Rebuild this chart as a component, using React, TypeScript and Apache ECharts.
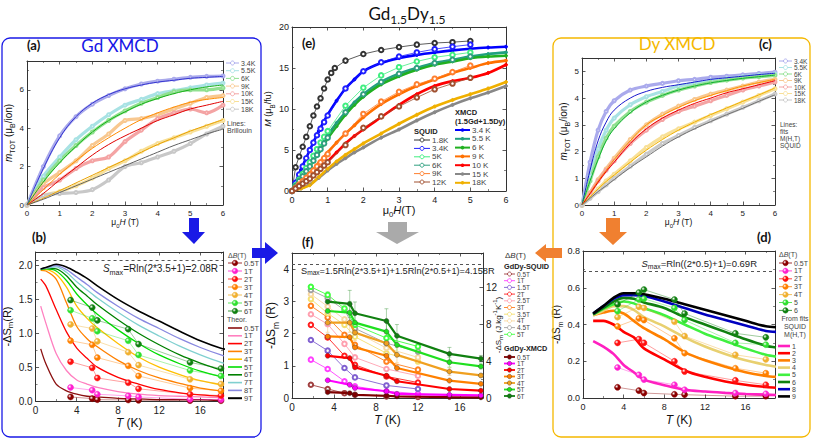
import React, { useEffect, useRef } from 'react';
import * as echarts from 'echarts';

// ---------------- data ----------------
// (a) Gd XMCD m(H)
const A_H = [0, 0.5, 1, 1.5, 2, 2.5, 3, 3.5, 4, 4.5, 5, 5.5, 6];
const A_NAMES = ['3.4K', '5.5K', '6K', '9K', '10K', '15K', '18K'];
const A_DATA = [
  [0, 2.0, 3.6, 4.6, 5.25, 5.7, 6.05, 6.3, 6.45, 6.55, 6.65, 6.7, 6.72],
  [0, 1.5, 2.5, 3.4, 4.1, 4.7, 5.2, 5.5, 5.8, 5.95, 6.1, 6.25, 6.35],
  [0, 1.3, 2.3, 3.1, 3.8, 4.4, 4.9, 5.3, 5.6, 5.9, 6.0, 6.0, 6.1],
  [0, 1.1, 1.7, 2.3, 3.1, 3.7, 4.4, 4.5, 4.7, 5.0, 5.3, 5.6, 5.7],
  [0, 0.9, 1.3, 1.9, 2.3, 2.5, 3.3, 3.9, 4.5, 4.8, 5.0, 4.8, 5.2],
  [0, 0.5, 0.7, 1.0, 1.4, 1.9, 2.3, 2.8, 3.2, 3.5, 3.8, 4.1, 4.4],
  [0, 0.5, 0.6, 0.65, 0.8, 1.3, 2.0, 2.2, 2.5, 2.8, 3.2, 3.7, 4.1],
];
const A_LINES = [
  [0, 1.9, 3.5, 4.6, 5.3, 5.75, 6.05, 6.25, 6.4, 6.5, 6.6, 6.65, 6.7],
  [0, 1.2, 2.2, 3.05, 3.8, 4.4, 4.85, 5.25, 5.55, 5.8, 6.0, 6.15, 6.25],
  [0, 0.8, 1.6, 2.3, 2.95, 3.5, 4.0, 4.45, 4.8, 5.1, 5.35, 5.5, 5.6],
  [0, 0.6, 1.3, 1.95, 2.6, 3.15, 3.6, 4.0, 4.4, 4.7, 5.0, 5.2, 5.4],
  [0, 0.35, 0.75, 1.15, 1.55, 1.95, 2.35, 2.75, 3.15, 3.5, 3.85, 4.15, 4.45],
  [0, 0.3, 0.65, 1.0, 1.35, 1.7, 2.05, 2.4, 2.75, 3.1, 3.4, 3.7, 3.95],
];

// (b) Gd -dS
const B_T = [0.5, 1, 2, 3, 4, 5, 6, 8, 10, 12, 14, 16, 18, 19];
const B_TH_NAMES = ['0.5T', '1T', '2T', '3T', '4T', '5T', '6T', '7T', '8T', '9T'];
const B_TH = [
  [0.77, 0.55, 0.25, 0.15, 0.1, 0.07, 0.06, 0.04, 0.03, 0.02, 0.02, 0.02, 0.01, 0.01],
  [1.4, 1.15, 0.7, 0.45, 0.31, 0.25, 0.2, 0.14, 0.1, 0.08, 0.07, 0.06, 0.05, 0.045],
  [1.8, 1.7, 1.35, 1.02, 0.78, 0.63, 0.5, 0.35, 0.25, 0.17, 0.12, 0.09, 0.07, 0.065],
  [1.93, 1.92, 1.8, 1.45, 1.1, 0.92, 0.8, 0.6, 0.45, 0.34, 0.26, 0.19, 0.15, 0.14],
  [1.94, 1.94, 1.87, 1.68, 1.4, 1.22, 1.08, 0.85, 0.65, 0.5, 0.39, 0.3, 0.24, 0.22],
  [1.94, 1.95, 1.92, 1.78, 1.58, 1.42, 1.28, 1.05, 0.85, 0.68, 0.55, 0.44, 0.36, 0.34],
  [1.95, 1.96, 1.95, 1.85, 1.68, 1.55, 1.42, 1.2, 1.0, 0.83, 0.68, 0.56, 0.46, 0.43],
  [1.95, 1.96, 1.98, 1.9, 1.76, 1.64, 1.52, 1.31, 1.12, 0.96, 0.81, 0.68, 0.57, 0.54],
  [1.95, 1.97, 2.0, 1.94, 1.83, 1.72, 1.6, 1.4, 1.22, 1.07, 0.92, 0.79, 0.68, 0.64],
  [1.95, 1.97, 2.02, 1.98, 1.9, 1.81, 1.7, 1.5, 1.33, 1.18, 1.03, 0.89, 0.78, 0.75],
];
const B_MT = [3.4, 5.5, 6, 9, 10, 15, 18];
const B_MK_NAMES = ['0.5T', '1T', '2T', '3T', '4T', '5T', '6T'];
const B_MK = [
  [0.06, 0.035, 0.02, 0.015, 0.01, 0.005, 0.004],
  [0.2, 0.16, 0.1, 0.075, 0.06, 0.025, 0.02],
  [0.58, 0.49, 0.34, 0.27, 0.18, 0.1, 0.08],
  [0.89, 0.83, 0.64, 0.52, 0.37, 0.19, 0.15],
  [1.13, 1.07, 0.88, 0.72, 0.53, 0.32, 0.25],
  [1.34, 1.22, 1.03, 0.89, 0.68, 0.45, 0.37],
  [1.49, 1.38, 1.19, 1.06, 0.84, 0.57, 0.48],
];
const B_SMAX = 2.08;

// (c) Dy XMCD m(H)
const C_H = [0, 0.25, 0.5, 0.75, 1, 1.5, 2, 2.5, 3, 3.5, 4, 4.5, 5, 5.5, 6];
const C_DATA = [
  [0, 1.6, 2.8, 3.5, 3.9, 4.3, 4.45, 4.55, 4.65, 4.7, 4.78, 4.82, 4.87, 4.92, 4.97],
  [0, 1.1, 2.1, 2.8, 3.25, 3.75, 4.05, 4.25, 4.45, 4.55, 4.65, 4.73, 4.8, 4.86, 4.9],
  [0, 0.9, 1.8, 2.5, 2.95, 3.5, 3.85, 4.1, 4.3, 4.45, 4.58, 4.67, 4.75, 4.8, 4.85],
  [0, 0.45, 0.95, 1.35, 1.75, 2.45, 3.0, 3.4, 3.7, 3.95, 4.15, 4.3, 4.45, 4.6, 4.7],
  [0, 0.45, 0.9, 1.3, 1.65, 2.3, 2.8, 3.2, 3.5, 3.7, 3.9, 4.1, 4.3, 4.45, 4.6],
  [0, 0.3, 0.6, 0.9, 1.15, 1.65, 2.15, 2.55, 2.85, 3.1, 3.35, 3.6, 3.85, 4.1, 4.35],
  [0, 0.25, 0.5, 0.75, 1.0, 1.45, 1.9, 2.3, 2.6, 2.9, 3.15, 3.4, 3.65, 3.9, 4.15],
];
const C_LINES = [
  [0, 1.3, 2.4, 3.1, 3.55, 4.0, 4.25, 4.4, 4.5, 4.6, 4.7, 4.76, 4.82, 4.88, 4.93],
  [0, 0.9, 1.7, 2.4, 2.85, 3.45, 3.85, 4.1, 4.3, 4.45, 4.57, 4.66, 4.74, 4.8, 4.86],
  [0, 0.45, 0.9, 1.3, 1.7, 2.4, 3.0, 3.35, 3.65, 3.9, 4.1, 4.28, 4.45, 4.58, 4.7],
  [0, 0.42, 0.85, 1.25, 1.6, 2.3, 2.85, 3.25, 3.55, 3.8, 4.0, 4.2, 4.35, 4.5, 4.65],
  [0, 0.3, 0.6, 0.88, 1.12, 1.6, 2.05, 2.45, 2.8, 3.1, 3.38, 3.63, 3.88, 4.12, 4.38],
  [0, 0.25, 0.5, 0.72, 0.95, 1.4, 1.8, 2.2, 2.55, 2.85, 3.12, 3.38, 3.62, 3.88, 4.12],
];

// (d) Dy -dS
const D_T = [1, 2, 3, 4, 5, 6, 8, 10, 12, 14, 16, 18, 19];
const D_LN_NAMES = ['1', '2', '3', '4', '5', '6', '8', '9'];
const D_LN = [
  [0.31, 0.28, 0.24, 0.18, 0.14, 0.1, 0.07, 0.045, 0.035, 0.028, 0.022, 0.018, 0.016],
  [0.42, 0.42, 0.4, 0.36, 0.33, 0.27, 0.21, 0.15, 0.115, 0.09, 0.072, 0.06, 0.056],
  [0.45, 0.465, 0.475, 0.46, 0.42, 0.38, 0.32, 0.25, 0.205, 0.17, 0.14, 0.12, 0.115],
  [0.45, 0.475, 0.5, 0.5, 0.48, 0.44, 0.39, 0.33, 0.28, 0.24, 0.205, 0.18, 0.17],
  [0.455, 0.485, 0.51, 0.525, 0.515, 0.49, 0.45, 0.4, 0.35, 0.31, 0.27, 0.235, 0.225],
  [0.455, 0.49, 0.525, 0.545, 0.54, 0.52, 0.49, 0.44, 0.4, 0.36, 0.32, 0.285, 0.275],
  [0.46, 0.5, 0.54, 0.56, 0.56, 0.555, 0.525, 0.49, 0.455, 0.425, 0.395, 0.365, 0.36],
  [0.46, 0.5, 0.545, 0.57, 0.57, 0.565, 0.54, 0.51, 0.48, 0.45, 0.42, 0.39, 0.385],
];
const D_MT = [3.4, 5.5, 6, 9, 10, 15, 18];
const D_MK_NAMES = ['0.5T', '1T', '2T', '3T', '4T', '5', '6'];
const D_MK = [
  [0.058, 0.04, 0.027, 0.02, 0.018, 0.01, 0.01],
  [0.166, 0.126, 0.1, 0.072, 0.045, 0.027, 0.023],
  [0.3, 0.32, 0.3, 0.2, 0.144, 0.096, 0.072],
  [0.39, 0.433, 0.424, 0.325, 0.244, 0.162, 0.135],
  [0.44, 0.496, 0.49, 0.415, 0.337, 0.235, 0.21],
  [0.473, 0.536, 0.54, 0.49, 0.424, 0.3, 0.29],
  [0.51, 0.574, 0.59, 0.536, 0.46, 0.352, 0.33],
];
const D_SMAX = 0.69;

// (e) Gd1.5Dy1.5 M(H)
const E_H18 = [0, 0.1, 0.2, 0.3, 0.4, 0.5, 0.6, 0.7, 0.8, 0.9, 1, 1.1, 1.2, 1.5, 2, 2.5, 3, 3.5, 4, 4.5, 5];
const E_SQ18 = [0, 2.9, 4.2, 5.4, 6.6, 7.9, 9.2, 10.3, 11.3, 12.5, 13.6, 14.4, 15.0, 15.9, 16.7, 17.2, 17.55, 17.85, 18.05, 18.15, 18.3];
const E_HSQ = [0, 0.1, 0.2, 0.3, 0.4, 0.5, 0.6, 0.7, 0.8, 0.9, 1, 1.5, 2, 2.5, 3, 3.5, 4, 4.5, 5];
const E_SQ_NAMES = ['3.4K', '5K', '6K', '9K', '12K'];
const E_SQ = [
  [0, 1.0, 2.0, 3.0, 4.0, 5.0, 5.9, 6.8, 7.6, 8.4, 9.2, 12.5, 14.6, 15.7, 16.4, 16.9, 17.3, 17.6, 17.85],
  [0, 0.7, 1.4, 2.1, 2.8, 3.5, 4.3, 5.1, 5.9, 6.6, 7.3, 10.4, 12.6, 14.1, 15.1, 15.8, 16.3, 16.6, 16.9],
  [0, 0.6, 1.2, 1.8, 2.4, 3.0, 3.7, 4.4, 5.1, 5.8, 6.5, 9.6, 11.8, 13.3, 14.3, 15.0, 15.6, 16.0, 16.4],
  [0, 0.4, 0.8, 1.2, 1.6, 2.0, 2.5, 3.0, 3.5, 4.0, 4.5, 7.0, 9.4, 10.9, 12.1, 13.0, 13.7, 14.5, 15.3],
  [0, 0.3, 0.6, 0.9, 1.2, 1.5, 1.9, 2.3, 2.7, 3.1, 3.5, 5.6, 7.7, 9.1, 10.3, 11.4, 12.4, 13.1, 13.8],
];
const E_HX = [0, 0.25, 0.5, 0.75, 1, 1.25, 1.5, 1.75, 2, 2.5, 3, 3.5, 4, 4.5, 5, 5.5, 6];
const E_X_NAMES = ['3.4 K', '5.5 K', '6 K', '9 K', '10 K', '15 K', '18K'];
const E_X = [
  [0, 2.6, 5.0, 7.3, 9.3, 11.0, 12.5, 13.6, 14.6, 15.6, 16.2, 16.6, 16.9, 17.15, 17.35, 17.5, 17.6],
  [0, 1.7, 3.3, 5.0, 6.8, 8.3, 9.6, 10.8, 11.8, 13.3, 14.3, 15.0, 15.6, 16.0, 16.4, 16.7, 16.9],
  [0, 1.5, 3.0, 4.7, 6.4, 7.9, 9.3, 10.5, 11.5, 13.0, 14.0, 14.8, 15.4, 15.8, 16.2, 16.4, 16.5],
  [0, 1.1, 2.2, 3.4, 4.7, 5.9, 7.0, 8.0, 9.0, 10.6, 11.8, 12.8, 13.6, 14.4, 15.0, 15.6, 15.9],
  [0, 0.7, 1.5, 2.5, 3.6, 4.7, 5.8, 6.7, 7.5, 9.0, 10.5, 11.8, 12.8, 13.4, 13.8, 14.4, 15.4],
  [0, 0.3, 0.8, 1.6, 2.5, 3.3, 4.0, 4.7, 5.3, 6.5, 7.5, 8.6, 9.6, 10.5, 11.3, 12.0, 12.8],
  [0, 0.3, 0.7, 1.7, 2.7, 3.6, 4.4, 5.1, 5.8, 7.0, 8.2, 9.3, 10.3, 11.1, 11.8, 12.5, 13.3],
];

// (f) Gd1.5Dy1.5 -dS
const F_ST = [1.8, 3.4, 5, 6, 9, 12];
const F_SQ_NAMES = ['0.5T', '1T', '1.5T', '2T', '2.5T', '3T', '3.5T', '4T', '4.5T', '5T'];
const F_SQ = [
  [0.41, 0.28, 0.15, 0.1, 0.05, 0.03],
  [1.19, 0.9, 0.52, 0.36, 0.21, 0.13],
  [1.8, 1.47, 0.93, 0.64, 0.39, 0.28],
  [2.27, 1.88, 1.31, 1.03, 0.67, 0.48],
  [2.6, 2.29, 1.68, 1.26, 0.9, 0.69],
  [2.86, 2.5, 1.96, 1.65, 1.13, 0.88],
  [3.07, 2.63, 2.27, 1.9, 1.39, 1.13],
  [3.22, 2.84, 2.44, 2.06, 1.55, 1.26],
  [3.35, 3.1, 2.73, 2.16, 1.7, 1.44],
  [3.45, 3.2, 2.78, 2.27, 1.86, 1.6],
];
const F_XT = [3.4, 5.5, 6, 9, 10, 15, 18];
const F_X_NAMES = ['0.5T', '1T', '2T', '3T', '4T', '5T', '6T'];
const F_X = [
  [0.18, 0.15, 0.1, 0.07, 0.05, 0.03, 0.02],
  [0.55, 0.41, 0.31, 0.21, 0.13, 0.1, 0.08],
  [1.31, 1.24, 0.95, 0.69, 0.52, 0.28, 0.23],
  [1.91, 1.89, 1.57, 1.31, 0.93, 0.54, 0.44],
  [2.34, 2.34, 2.03, 1.7, 1.34, 0.82, 0.7],
  [2.7, 2.65, 2.34, 2.06, 1.65, 1.11, 0.98],
  [2.99, 2.92, 2.63, 2.39, 1.93, 1.37, 1.22],
];
// error bars (half-width) for the 4T, 5T, 6T XMCD sets
const F_ERR_IDX = [4, 5, 6];
const F_ERR = [
  [0.3, 0.3, 0.25, 0.3, 0.25, 0.12, 0.06],
  [0.25, 0.35, 0.3, 0.3, 0.3, 0.15, 0.08],
  [0.3, 0.42, 0.35, 0.38, 0.35, 0.2, 0.1],
];
const F_SMAX = 4.158;

// ---------------- colours ----------------
const C_XMCD_DATA = ['#aaaaec', '#a8e2e4', '#90e090', '#f8c890', '#f4a4a4', '#f8e098', '#c8c8c8'];
const C_A_LINE = ['#3434d0', '#18b018', '#ff8c00', '#e00000', '#e8a000', '#606060'];
const C_C_LINE = ['#1a1acc', '#10b030', '#ff9000', '#ee0000', '#f0b000', '#707070'];
const C_MK = ['#8b0000', '#ff20d0', '#ff1010', '#ff8000', '#f0b030', '#30e030', '#108010'];
const C_B_TH = ['#8b1010', '#ff80c0', '#ff0000', '#ff8000', '#ffc000', '#00dd00', '#008000', '#80d0d0', '#8888e0', '#000000'];
const C_D_LN = ['#ff20c0', '#ff0000', '#ff8000', '#e8d070', '#40f040', '#108010', '#0000c0', '#000000'];
const C_E_SQ = ['#2020ff', '#40ee80', '#30a080', '#ff8030', '#a05030'];
const C_E_X = ['#0000ff', '#20a080', '#20b020', '#ff7000', '#ff0000', '#888888', '#f0b000'];
const C_F_SQ = ['#a04040', '#ff40ff', '#8060d0', '#ff2020', '#ffa0b0', '#ff8020', '#f4e070', '#f8d8a0', '#a0a0a0', '#40ff40'];
const C_F_X = ['#800000', '#ff00ff', '#ff0000', '#ff8000', '#f0a020', '#20e020', '#108010'];

const FONT = '"Liberation Sans", Arial, sans-serif';
const TFONT = 'Lato, "Open Sans", sans-serif';

function rich(size: number, color = '#111') {
  return {
    n: { fontSize: size, fontFamily: FONT, color, lineHeight: size * 1.5 },
    i: { fontSize: size, fontFamily: FONT, fontStyle: 'italic', color, lineHeight: size * 1.5 },
    s: { fontSize: size * 0.7, fontFamily: FONT, color, verticalAlign: 'bottom', lineHeight: size * 0.75 },
    u: { fontSize: size * 0.7, fontFamily: FONT, color, verticalAlign: 'top', lineHeight: size * 0.75 },
  };
}

function ball(c: string) {
  return new echarts.graphic.RadialGradient(0.35, 0.35, 0.7, [
    { offset: 0, color: '#ffffff' },
    { offset: 0.45, color: c },
    { offset: 1, color: c },
  ]);
}

function buildOption() {
  const grid: any[] = [];
  const xAxis: any[] = [];
  const yAxis: any[] = [];
  const series: any[] = [];
  const G: any[] = [];

  const isMult = (m: number, iv: number) => Math.abs(m / iv - Math.round(m / iv)) < 1e-6;
  const axLine = { show: true, onZero: false, lineStyle: { color: '#333', width: 1 } };
  const tick = { show: true, inside: true, length: 3.5, lineStyle: { color: '#333', width: 0.8 } };
  const minor = { show: true, splitNumber: 2, length: 2, lineStyle: { color: '#333', width: 0.6 } };

  function panel(g: number, box: any, xr: number[], yr: number[], o: any) {
    grid.push({ left: box[0], top: box[1], width: box[2], height: box[3], show: false });
    const common = { type: 'value', gridIndex: g, axisLine: axLine, axisTick: tick, minorTick: minor, splitLine: { show: false } };
    xAxis.push({
      ...common, position: 'bottom', min: xr[0], max: xr[1], interval: xr[2],
      axisLabel: { fontSize: o.fs, fontFamily: FONT, color: '#222', margin: 4, showMaxLabel: isMult(xr[1], xr[2]) },
      name: o.xn, nameLocation: 'middle', nameGap: o.xg, nameTextStyle: { fontSize: o.xns, fontFamily: FONT, rich: rich(o.xns) },
    });
    xAxis.push({ ...common, position: 'top', min: xr[0], max: xr[1], interval: xr[2], axisLabel: { show: false } });
    yAxis.push({
      ...common, position: 'left', min: yr[0], max: yr[1], interval: yr[2],
      axisLabel: { fontSize: o.fs, fontFamily: FONT, color: '#222', margin: 3, showMaxLabel: isMult(yr[1], yr[2]), formatter: o.yf },
      name: o.yn, nameLocation: 'middle', nameRotate: 90, nameGap: o.yg, nameTextStyle: { fontSize: o.yns, fontFamily: FONT, rich: rich(o.yns) },
    });
    if (o.right) {
      const r = o.right;
      yAxis.push({
        ...common, position: 'right', min: r[0], max: r[1], interval: r[2],
        axisLabel: { fontSize: o.fs, fontFamily: FONT, color: '#222', margin: 3, showMaxLabel: false },
      });
    } else {
      yAxis.push({ ...common, position: 'right', min: yr[0], max: yr[1], interval: yr[2], axisLabel: { show: false } });
    }
  }

  function ser(g: number, xs: number[], ys: number[], o: any) {
    const s: any = {
      type: 'line', xAxisIndex: 2 * g, yAxisIndex: 2 * g, silent: true,
      data: xs.map((x, i) => [x, ys[i]]),
      symbol: o.symbol || 'none', symbolSize: o.size || 4, showSymbol: !!o.symbol, showAllSymbol: true,
      smooth: o.smooth ?? false, z: o.z ?? 2,
      lineStyle: { color: o.color, width: o.width ?? 1, opacity: o.op ?? 1 },
      itemStyle: { color: o.fill || o.color, borderColor: o.border || o.color, borderWidth: o.bw ?? 1 },
    };
    if (o.markY !== undefined) {
      s.markLine = {
        silent: true, symbol: 'none', label: { show: false },
        lineStyle: { type: [3, 3], color: '#555', width: 1 },
        data: [{ yAxis: o.markY }],
      };
    }
    series.push(s);
  }

  // ---- panels ----
  const fmt1 = (v: number) => v.toFixed(1);
  panel(0, [27, 61, 196, 144], [0, 6, 1], [0, 7.5, 2], {
    fs: 8, xn: '{n|μ}{s|0}{i|H}{n| (T)}', xg: 10, xns: 8.5,
    yn: '{i|m}{s|TOT}{n| (μ}{s|B}{n|/ion)}', yg: 10, yns: 10,
  });
  panel(1, [28, 252, 195, 149], [0, 18.2, 4], [0, 2.2, 0.5], {
    fs: 10, yf: fmt1, xn: '{i|T}{n| (K)}', xg: 13, xns: 12,
    yn: '{n|-ΔS}{s|m}{n|(R)}', yg: 14, yns: 11,
  });
  panel(2, [582, 58, 193, 147], [0, 6, 1], [0, 5.5, 1], {
    fs: 8, xn: '{n|μ}{s|0}{i|H}{n| (T)}', xg: 10, xns: 8.5,
    yn: '{i|m}{s|TOT}{n| (μ}{s|B}{n|/ion)}', yg: 9, yns: 10,
  });
  panel(3, [583, 251, 192, 147], [0, 18.9, 4], [0, 0.8, 0.2], {
    fs: 9, yf: fmt1, xn: '{i|T}{n| (K)}', xg: 13, xns: 12,
    yn: '{n|-ΔS}{s|m}{n| (R)}', yg: 14, yns: 10,
  });
  panel(4, [292, 27, 214, 164], [0, 6, 1], [0, 20, 5], {
    fs: 9, xn: '{n|μ}{s|0}{i|H}{n|(T)}', xg: 11, xns: 11,
    yn: '{i|M}{n| (μ}{s|B}{n|/fu)}', yg: 12, yns: 9,
  });
  panel(5, [292, 253, 191, 145], [0, 18.2, 4], [0, 4.5, 1], {
    fs: 10, xn: '{i|T}{n| (K)}', xg: 13, xns: 12,
    yn: '{n|-ΔS}{s|m}{n| (R)}', yg: 12, yns: 12,
    right: [0, 15.7, 4],
  });

  // (a)
  A_DATA.forEach((d, i) => ser(0, A_H, d, { color: C_XMCD_DATA[i], width: 3.2, symbol: 'emptyCircle', size: 3, smooth: 0.3, z: 2 }));
  A_LINES.forEach((d, k) => ser(0, A_H, d, { color: C_A_LINE[k], width: 1, smooth: 0.4, z: 3 }));

  // (b)
  B_TH.forEach((d, i) => ser(1, B_T, d, { color: C_B_TH[i], width: i === 9 ? 1.6 : 1.3, smooth: 0.3, z: 3, markY: i === 9 ? B_SMAX : undefined }));
  B_MK.forEach((d, i) => ser(1, B_MT, d, { color: C_MK[i], width: 0.8, op: 0.5, symbol: 'circle', size: 6, fill: ball(C_MK[i]), border: C_MK[i], bw: 0.5, z: 4 }));

  // (c)
  C_DATA.forEach((d, i) => ser(2, C_H, d, { color: C_XMCD_DATA[i], width: 3.2, symbol: 'emptyCircle', size: 3, smooth: 0.3, z: 2 }));
  C_LINES.forEach((d, k) => ser(2, C_H, d, { color: C_C_LINE[k], width: 1, smooth: 0.4, z: 3 }));

  // (d)
  D_LN.forEach((d, i) => ser(3, D_T, d, { color: C_D_LN[i], width: 2.6, smooth: 0.3, z: 3, markY: i === 7 ? D_SMAX : undefined }));
  D_MK.forEach((d, i) => ser(3, D_MT, d, { color: C_MK[i], width: 0.8, op: 0.5, symbol: 'circle', size: 6, fill: ball(C_MK[i]), border: C_MK[i], bw: 0.5, z: 4 }));

  // (e)
  E_X.forEach((d, i) => ser(4, E_HX, d, { color: C_E_X[i], width: 2.6, symbol: 'circle', size: 3, smooth: 0.3, z: 2 }));
  ser(4, E_H18, E_SQ18, { color: '#333333', width: 0.8, symbol: 'emptyCircle', size: 4.5, z: 4 });
  E_SQ.forEach((d, i) => ser(4, E_HSQ, d, { color: C_E_SQ[i], width: 0.8, symbol: 'emptyCircle', size: 4.5, z: 4 }));

  // (f)
  F_ERR_IDX.forEach((k, m) => {
    const col = C_F_X[k];
    series.push({
      type: 'custom', xAxisIndex: 10, yAxisIndex: 10, silent: true, z: 1,
      data: F_XT.map((t, j) => [t, F_X[k][j], F_ERR[m][j]]),
      renderItem: (_p: any, api: any) => {
        const x = api.value(0), y = api.value(1), e = api.value(2);
        const a = api.coord([x, y - e]);
        const b = api.coord([x, y + e]);
        const st = { stroke: col, lineWidth: 1, opacity: 0.35 };
        return {
          type: 'group',
          children: [
            { type: 'line', shape: { x1: a[0], y1: a[1], x2: b[0], y2: b[1] }, style: st },
            { type: 'line', shape: { x1: a[0] - 2, y1: a[1], x2: a[0] + 2, y2: a[1] }, style: st },
            { type: 'line', shape: { x1: b[0] - 2, y1: b[1], x2: b[0] + 2, y2: b[1] }, style: st },
          ],
        };
      },
    });
  });
  F_SQ.forEach((d, i) => ser(5, F_ST, d, { color: C_F_SQ[i], width: 0.9, symbol: 'emptyCircle', size: 4.5, z: 3, markY: i === 0 ? F_SMAX : undefined }));
  F_X.forEach((d, i) => ser(5, F_XT, d, { color: C_F_X[i], width: 2.2, symbol: 'circle', size: 5, fill: C_F_X[i], border: '#333', bw: 0.4, z: 4 }));

  // ---- graphics ----
  const txt = (x: number, y: number, text: string, o: any = {}) => ({
    type: 'text', z: 60,
    style: {
      x, y, text,
      fill: o.fill || '#444',
      font: `${o.italic ? 'italic ' : ''}${o.bold ? 'bold ' : ''}${o.size || 7}px ${o.family || FONT}`,
      align: o.align || 'left', verticalAlign: 'middle',
      rich: o.rich,
    },
  });
  const leg = (x: number, y: number, len: number, color: string, label: string, kind: string, lw: number, fs = 7) => {
    G.push({ type: 'line', z: 58, shape: { x1: x, y1: y, x2: x + len, y2: y }, style: { stroke: color, lineWidth: lw } });
    const cx = x + len / 2;
    if (kind === 'open') G.push({ type: 'circle', z: 59, shape: { cx, cy: y, r: 2 }, style: { fill: '#fff', stroke: color, lineWidth: 0.9 } });
    if (kind === 'dot') G.push({ type: 'circle', z: 59, shape: { cx, cy: y, r: 1.8 }, style: { fill: color } });
    if (kind === 'ball') G.push({ type: 'circle', z: 59, shape: { cx, cy: y, r: 2.8 }, style: { fill: ball(color), stroke: color, lineWidth: 0.4 } });
    if (kind === 'fdot') G.push({ type: 'circle', z: 59, shape: { cx, cy: y, r: 2.2 }, style: { fill: color, stroke: '#333', lineWidth: 0.4 } });
    G.push(txt(x + len + 2, y, label, { size: fs }));
  };

  // frames
  G.push({ type: 'rect', z: 1, shape: { x: 2, y: 38, width: 259, height: 399, r: 8 }, style: { fill: 'none', stroke: '#1a1ae6', lineWidth: 1.3 } });
  G.push({ type: 'rect', z: 1, shape: { x: 553, y: 38, width: 257, height: 399, r: 8 }, style: { fill: 'none', stroke: '#f5b800', lineWidth: 1.3 } });

  // titles
  G.push(txt(120, 45, 'Gd XMCD', { size: 17, family: TFONT, fill: '#1515e6', align: 'center' }));
  G.push(txt(677, 43, 'Dy XMCD', { size: 17, family: TFONT, fill: '#f5b800', align: 'center' }));
  G.push({
    type: 'text', z: 60,
    style: {
      x: 407, y: 13, align: 'center', verticalAlign: 'middle',
      text: '{n|Gd}{s|1.5}{n|Dy}{s|1.5}',
      rich: {
        n: { fontSize: 17, fontFamily: TFONT, fill: '#111', lineHeight: 24 },
        s: { fontSize: 12, fontFamily: TFONT, fill: '#111', verticalAlign: 'bottom', lineHeight: 12 },
      },
    },
  });
  const lab = (x: number, y: number, t: string) => G.push(txt(x, y, t, { size: 13, bold: true, family: TFONT, fill: '#111' }));
  lab(27, 45, '(a)');
  lab(32, 237, '(b)');
  lab(759, 44, '(c)');
  lab(757, 237, '(d)');
  lab(302, 43, '(e)');
  lab(302, 242, '(f)');

  // right-axis title of (f)
  G.push({
    type: 'text', z: 60, x: 498, y: 325, rotation: Math.PI / 2,
    style: {
      x: 0, y: 0, align: 'center', verticalAlign: 'middle',
      text: '{n|-ΔS}{s|m}{n| (J.kg}{u|-1}{n|K}{u|-1}{n|)}',
      rich: {
        n: { fontSize: 8, fontFamily: FONT, fill: '#111', lineHeight: 12 },
        s: { fontSize: 6, fontFamily: FONT, fill: '#111', verticalAlign: 'bottom', lineHeight: 6 },
        u: { fontSize: 6, fontFamily: FONT, fill: '#111', verticalAlign: 'top', lineHeight: 6 },
      },
    },
  });

  // Smax texts
  const smaxRich = (size: number) => ({
    n: { fontSize: size, fontFamily: FONT, fill: '#222' },
    i: { fontSize: size, fontFamily: FONT, fontStyle: 'italic', fill: '#222', lineHeight: size * 1.5 },
    s: { fontSize: size * 0.72, fontFamily: FONT, fill: '#222', verticalAlign: 'bottom', lineHeight: size * 0.7 },
  });
  G.push({ type: 'text', z: 60, style: { x: 218, y: 268, align: 'right', verticalAlign: 'middle', text: '{i|S}{s|max}{n|=Rln(2*3.5+1)=2.08R}', rich: smaxRich(10) } });
  G.push({ type: 'text', z: 60, style: { x: 757, y: 263, align: 'right', verticalAlign: 'middle', text: '{i|S}{s|max}{n|=Rln((2*0.5)+1)=0.69R}', rich: smaxRich(9.5) } });
  G.push({ type: 'text', z: 60, style: { x: 301, y: 271, align: 'left', verticalAlign: 'middle', text: '{n|S}{s|max}{n|=1.5Rln(2*3.5+1)+1.5Rln(2*0.5+1)=4.158R}', rich: smaxRich(9.2) } });

  // legend (a)
  A_NAMES.forEach((nm, i) => leg(226, 63 + i * 7.7, 13, C_XMCD_DATA[i], nm, 'open', 1, 7));
  G.push(txt(227, 123, 'Lines:', { size: 7 }));
  G.push(txt(227, 130, 'Brillouin', { size: 7 }));

  // legend (b)
  const dB = (size: number, fill: string) => ({ n: { fontSize: size, fontFamily: FONT, fill }, i: { fontSize: size, fontStyle: 'italic', fontFamily: FONT, fill } });
  G.push(txt(228, 255, '{n|Δ}{i|B}{n|(T)}', { size: 7, rich: dB(7, '#444') }));
  B_MK_NAMES.forEach((nm, i) => leg(228, 263 + i * 8, 14, C_MK[i], nm, 'ball', 0.8, 7.5));
  G.push(txt(227, 319, 'Theor.', { size: 7 }));
  B_TH_NAMES.forEach((nm, i) => leg(228, 328 + i * 7.8, 14, C_B_TH[i], nm, 'none', i === 9 ? 2 : 1.6, 7.5));

  // legend (c)
  A_NAMES.forEach((nm, i) => leg(779, 61 + i * 6.5, 13, C_XMCD_DATA[i], nm, 'open', 1, 6.5));
  ['Lines:', 'fits', 'M(H,T)', 'SQUID'].forEach((t, i) => G.push(txt(780, 124 + i * 7, t, { size: 6.5 })));

  // legend (d)
  G.push(txt(779, 254, '{n|Δ}{i|B}{n|(T)}', { size: 7, rich: dB(7, '#444') }));
  D_MK_NAMES.forEach((nm, i) => leg(779, 263 + i * 7.9, 13, C_MK[i], nm, 'ball', 0.8, 7));
  G.push(txt(795, 318, 'From fits', { size: 7, align: 'center' }));
  G.push(txt(795, 326, 'SQUID', { size: 7, align: 'center' }));
  G.push(txt(795, 334, 'M(H,T)', { size: 7, align: 'center' }));
  D_LN_NAMES.forEach((nm, i) => leg(778, 346 + i * 7.2, 12, C_D_LN[i], nm, 'none', 2.6, 7));

  // legend (e)
  G.push(txt(414, 131, 'SQUID', { size: 7.5, bold: true, fill: '#222' }));
  leg(414, 140, 16, '#333333', '1.8K', 'open', 1, 8);
  E_SQ_NAMES.forEach((nm, i) => leg(414, 148.4 + i * 8.4, 16, C_E_SQ[i], nm, 'open', 1, 8));
  G.push(txt(455, 112, 'XMCD', { size: 7.5, bold: true, fill: '#222' }));
  G.push(txt(455, 121, '(1.5Gd+1.5Dy)', { size: 7.5, bold: true, fill: '#222' }));
  E_X_NAMES.forEach((nm, i) => leg(455, 130 + i * 8.8, 15, C_E_X[i], nm, 'dot', 2, 8));

  // legend (f)
  G.push(txt(505, 255, '{n|Δ}{i|B}{n|(T)}', { size: 8, rich: dB(8, '#333') }));
  G.push(txt(504, 266, 'GdDy-SQUID', { size: 7.3, bold: true, fill: '#222' }));
  F_SQ_NAMES.forEach((nm, i) => leg(504, 274 + i * 6.7, 11, C_F_SQ[i], nm, 'open', 0.9, 6.5));
  G.push(txt(504, 348, 'GdDy-XMCD', { size: 7.3, bold: true, fill: '#222' }));
  F_X_NAMES.forEach((nm, i) => leg(504, 357 + i * 6.5, 11, C_F_X[i], nm, 'fdot', 1.8, 6.5));

  // arrows
  const poly = (pts: number[][], fill: string) => G.push({ type: 'polygon', z: 70, shape: { points: pts }, style: { fill } });
  poly([[189, 218], [199, 218], [199, 232], [205, 232], [194, 244], [182, 232], [189, 232]], '#1a1ae6');
  poly([[252, 248], [265, 248], [265, 242], [278, 253], [265, 264], [265, 258], [252, 258]], '#1a1ae6');
  poly([[388, 222], [407, 222], [407, 232], [419, 232], [397, 244], [376, 232], [388, 232]], '#aaaaaa');
  poly([[606, 218], [620, 218], [620, 232], [627, 232], [613, 245], [599, 232], [606, 232]], '#f08030');
  poly([[562, 248], [546, 248], [546, 244], [535, 253], [546, 262], [546, 258], [562, 258]], '#f08030');

  return { animation: false, backgroundColor: '#ffffff', grid, xAxis, yAxis, series, graphic: G };
}

export default function App() {
  const ref = useRef<HTMLDivElement>(null);
  useEffect(() => {
    const chart = echarts.init(ref.current!, null, { renderer: 'svg' });
    chart.setOption(buildOption() as any);
    return () => chart.dispose();
  }, []);
  return <div ref={ref} style={{ position: 'fixed', left: 0, top: 0, width: 813, height: 440, background: '#fff' }} />;
}
